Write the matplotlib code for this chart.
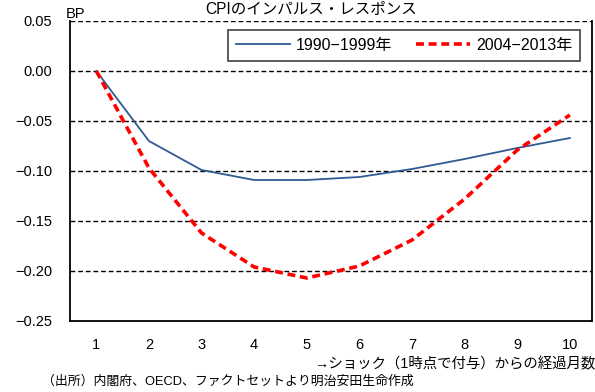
import matplotlib
matplotlib.use("Agg")
import matplotlib.pyplot as plt
from matplotlib.ticker import FuncFormatter

plt.rcParams['font.family'] = ['Liberation Sans', 'Noto Sans CJK JP', 'DejaVu Sans']

months = [1, 2, 3, 4, 5, 6, 7, 8, 9, 10]
series_1990s = [0.0, -0.070, -0.099, -0.109, -0.109, -0.106, -0.098, -0.088, -0.077, -0.067]
series_2004 = [0.0, -0.097, -0.162, -0.196, -0.207, -0.195, -0.169, -0.128, -0.079, -0.044]
label_1990s = "1990−1999年"
label_2004 = "2004−2013年"
y_ticks = [0.05, 0.00, -0.05, -0.10, -0.15, -0.20, -0.25]

title = "CPIのインパルス・レスポンス"
unit = "BP"
xlabel = "→ショック（1時点で付与）からの経過月数"
source = "（出所）内閣府、OECD、ファクトセットより明治安田生命作成"

fig = plt.figure(figsize=(5.95, 3.92), dpi=100)
ax = fig.add_axes([70 / 595, 1 - 321 / 392, 522 / 595, 300 / 392])

for y in y_ticks:
    if y > -0.25:
        ax.axhline(y, color='black', lw=1.0, ls=(0, (3.5, 2)), zorder=1)

ax.plot(months, series_1990s, color='#2F5A92', lw=1.3, label=label_1990s, zorder=3)
ax.plot(months, series_2004, color='#FF0000', lw=2.6, ls=(0, (2.2, 1.3)),
        label=label_2004, zorder=3)

ax.set_xlim(0.5, 10.42)
ax.set_ylim(-0.25, 0.05)
ax.set_xticks(months)
ax.set_yticks(y_ticks)
ax.yaxis.set_major_formatter(FuncFormatter(lambda v, p: f"{v:.2f}".replace('-', '−')))
ax.tick_params(axis='both', length=0, labelsize=10.5, colors='black')
ax.tick_params(axis='y', pad=13)
ax.tick_params(axis='x', pad=12)

for side in ['left', 'bottom', 'right']:
    ax.spines[side].set_color('black')
    ax.spines[side].set_linewidth(1.3)
ax.spines['top'].set_visible(False)

leg = ax.legend(loc='upper right', bbox_to_anchor=((580 - 70) / 522, 1 - 9 / 300),
                borderaxespad=0, ncol=2, fontsize=11.5,
                frameon=True, fancybox=False, edgecolor='#222222', handlelength=3.4,
                columnspacing=1.5, handletextpad=0.35, borderpad=0.5)
leg.get_frame().set_linewidth(1.3)

fig.text(311 / 595, 1 - 9 / 392, title, ha='center', va='center', fontsize=11.2)
fig.text(66 / 595, 1 - 14 / 392, unit, ha='left', va='center', fontsize=10.5)
fig.text(595 / 595, 1 - 364 / 392, xlabel, ha='right', va='center', fontsize=10.4)
fig.text(42 / 595, 1 - 382 / 392, source, ha='left', va='center', fontsize=9.3)

fig.savefig('out.png', dpi=100)
